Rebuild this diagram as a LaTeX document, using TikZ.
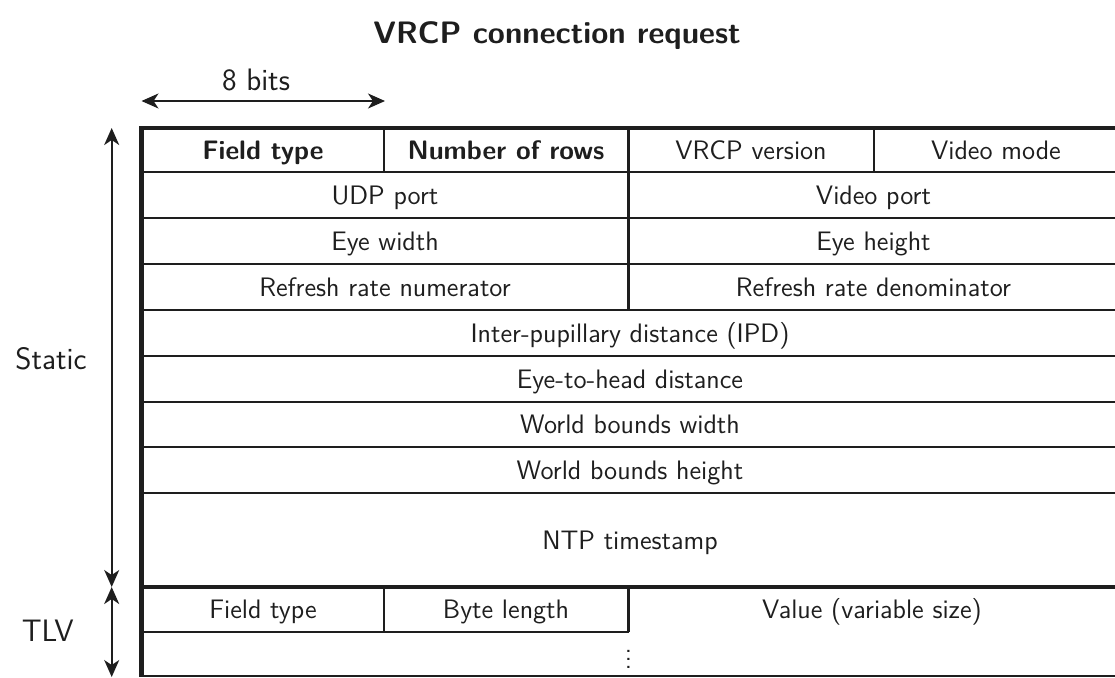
\documentclass[tikz,border=0pt]{standalone}
\usepackage{fontspec}
\usetikzlibrary{arrows.meta}
\newcommand\tblfont{\sffamily\fontsize{13.35}{16}\selectfont}
\newcommand\lblfont{\sffamily\fontsize{15.5}{18}\selectfont}
\definecolor{ink}{HTML}{1E1E1E}
\begin{document}
\begin{tikzpicture}[x=0.5pt,y=-0.5pt,
  cell/.style={font=\tblfont, text=ink, inner sep=0pt, anchor=base},
  headcell/.style={font=\tblfont\bfseries, text=ink, inner sep=0pt, anchor=base},
  lbl/.style={font=\lblfont, text=ink, inner sep=0pt},
  rule/.style={line width=1.1pt, draw=ink},
  heavy/.style={line width=2.1pt, draw=ink},
  dimarrow/.style={line width=0.8pt, draw=ink,
    {Stealth[length=8.5pt,width=7.5pt,inset=2.5pt]}-{Stealth[length=8.5pt,width=7.5pt,inset=2.5pt]}}
]
\useasboundingbox (0,0) rectangle (1115,677);

% column borders (x), in pixels
\def\xa{141.5}\def\xb{384}\def\xc{628.5}\def\xd{874}\def\xe{1115}

% title
\node[font=\sffamily\bfseries\fontsize{15.5}{18}\selectfont, text=ink, inner sep=0pt, anchor=base] (title) at (557,43) {VRCP connection request};

% width of one byte
\coordinate (bitsL) at (\xa,101);
\coordinate (bitsR) at (385,101);
\draw[dimarrow] (bitsL) -- (bitsR);
\node[lbl] (bits) at (256,80) {8 bits};

% horizontal rules
\draw[rule] (\xa,172) -- (\xe,172);
\draw[rule] (\xa,218) -- (\xe,218);
\draw[rule] (\xa,264) -- (\xe,264);
\draw[rule] (\xa,310) -- (\xe,310);
\draw[rule] (\xa,356) -- (\xe,356);
\draw[rule] (\xa,402) -- (\xe,402);
\draw[rule] (\xa,447) -- (\xe,447);
\draw[rule] (\xa,493) -- (\xe,493);
\draw[rule] (\xa,632) -- (\xc,632);
\draw[rule] (\xa,676) -- (\xe,676);

% vertical rules
\draw[rule] (\xb,128) -- (\xb,172);
\draw[rule] (\xd,128) -- (\xd,172);
\draw[rule] (\xc,128) -- (\xc,310);
\draw[rule] (\xb,587) -- (\xb,632);
\draw[rule] (\xc,587) -- (\xc,632);

% heavy outline and static/TLV separator
\draw[heavy] (\xe,128) -- (139.5,128);
\draw[heavy] (\xa,126) -- (\xa,677);
\draw[heavy] (\xa,587) -- (\xe,587);

% static part
\node[headcell] (ftype) at (263,159.3) {Field type};
\node[headcell] (nrows) at (506,159.3) {Number of rows};
\node[cell] (ver) at (751,159.3) {VRCP version};
\node[cell] (vmode) at (996,159.3) {Video mode};
\node[cell] (udp) at (385,204.3) {UDP port};
\node[cell] (vport) at (873.5,204.3) {Video port};
\node[cell] (ew) at (385,250.3) {Eye width};
\node[cell] (eh) at (873.5,250.3) {Eye height};
\node[cell] (rnum) at (385,296.3) {Refresh rate numerator};
\node[cell] (rden) at (873.5,296.3) {Refresh rate denominator};
\node[cell] (ipd) at (630,342.3) {Inter-pupillary distance (IPD)};
\node[cell] (ehd) at (630,388.3) {Eye-to-head distance};
\node[cell] (wbw) at (630,433.8) {World bounds width};
\node[cell] (wbh) at (630,479.3) {World bounds height};
\node[cell] (ntp) at (630,549.3) {NTP timestamp};

% TLV entries
\node[cell] (tftype) at (263,618.8) {Field type};
\node[cell] (tlen) at (506,618.8) {Byte length};
\node[cell] (tval) at (872,618.8) {Value (variable size)};
\node[font=\tblfont, text=ink, inner sep=0pt] (more) at (\xc,653) {$\vdots$};

% section extents
\coordinate (stTop) at (111.7,128);
\coordinate (stBot) at (111.7,587);
\coordinate (tlvTop) at (111.7,587);
\coordinate (tlvBot) at (111.7,677);
\draw[dimarrow] (stTop) -- (stBot);
\draw[dimarrow] (tlvTop) -- (tlvBot);
\node[lbl, anchor=east] (static) at (87,359) {Static};
\node[lbl, anchor=east] (tlv) at (74,631) {TLV};
\end{tikzpicture}
\end{document}
